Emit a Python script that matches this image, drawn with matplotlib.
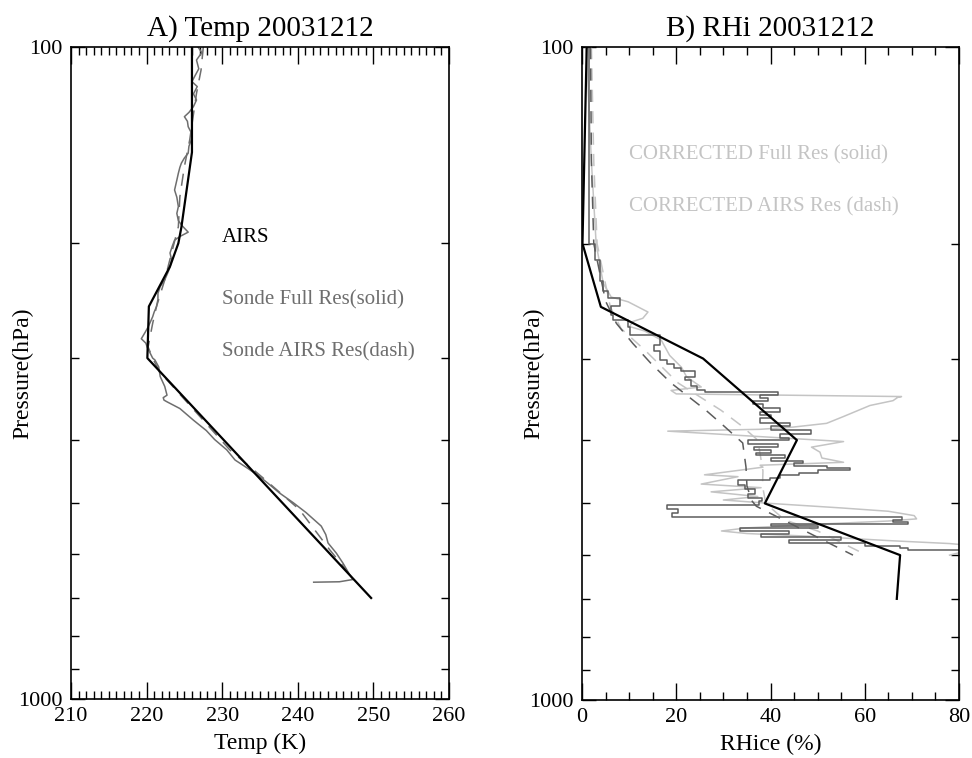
import matplotlib
matplotlib.use("Agg")
from matplotlib import pyplot as plt
from matplotlib.ticker import FixedLocator, MultipleLocator, NullFormatter

plt.rcParams["font.family"] = ["Liberation Serif", "DejaVu Serif"]

# ---- panel A: temperature profiles ----
p_airs_t = [100, 145, 189, 200, 217, 250, 300, 700]
t_airs = [226.0, 226.0, 224.6, 224.2, 223.1, 220.3, 220.1, 249.7]

p_sonde_t = [100, 102, 104.7, 108, 110.7, 113, 115, 118, 120.6, 123.4, 126, 127.9, 130, 132.5,
             136, 138.9, 142, 145.5, 148, 150.7, 153, 156.2, 160, 165.7, 170, 175.7, 180, 184.6,
             188, 192.3, 195, 197.8, 202, 207, 212, 217.5, 222, 227.6, 233, 238.7, 244, 250.3,
             255, 259.3, 264, 268.8, 274, 280.2, 284.6, 289, 293.7, 300, 302, 309.5, 320.2,
             331.6, 342, 345, 348, 350.1, 358.5, 373.6, 387.5, 400, 414.8, 430, 443, 456.4,
             467.3, 483.3, 500, 517.8, 543, 559.5, 576.4, 597.5, 619.6, 643, 655.7, 661, 662]
t_sonde = [226.8, 227.3, 226.6, 226.9, 226.4, 226.0, 226.7, 226.2, 226.6, 226.2, 225.6, 225.0,
           225.4, 225.5, 226.0, 225.9, 225.6, 225.5, 225.0, 224.6, 224.4, 224.2, 224.0, 223.7,
           224.0, 224.2, 224.0, 224.2, 224.7, 225.5, 224.5, 223.7, 223.4, 223.1, 223.3, 223.1,
           222.8, 222.4, 221.8, 221.5, 221.5, 221.3, 221.0, 220.8, 220.5, 220.2, 219.8, 219.3,
           219.9, 220.1, 220.4, 220.8, 221.1, 221.6, 221.8, 222.4, 222.7, 222.2, 222.3, 222.7,
           224.4, 226.2, 227.9, 229.0, 230.6, 231.7, 233.4, 235.0, 236.1, 237.6, 239.4, 241.1,
           243.1, 243.7, 244.0, 245.1, 246.0, 246.8, 247.3, 245.5, 242.1]

p_sonde_t_airs = [100, 108.5, 117.8, 138.9, 152.5, 169.7, 188.7, 207, 227.6, 250.3, 265.5,
                  288.5, 300, 314.7, 358.5, 414.8, 458, 512, 590, 634, 657]
t_sonde_airs = [227.5, 227.2, 226.6, 225.7, 225.0, 224.4, 224.2, 223.3, 222.4, 221.3, 220.8,
                220.2, 220.8, 221.7, 226.1, 231.0, 235.4, 240.2, 244.2, 246.4, 247.3]

# ---- panel B: relative humidity over ice ----
p_airs_rh = [100, 200, 250, 300, 400, 500, 600, 700]
rh_airs = [1.0, 0.1, 4.0, 25.7, 45.6, 38.8, 67.5, 66.8]

p_sonde_rh = [100, 200, 212, 228, 236, 242, 249, 257, 262, 268, 276, 286, 292, 302, 306, 310,
              314, 320, 324, 330, 335, 338, 341, 345, 348, 352, 357, 362, 366, 370, 376, 381,
              386, 392, 397, 400, 405, 410, 414, 418, 422, 426, 430, 434, 438, 441, 445, 449,
              453, 457, 461, 468, 475, 483, 490, 496, 502, 510, 517, 524, 530, 534, 538, 542,
              546, 551, 556, 562, 568, 574, 580, 586, 590]
rh_sonde = [1.5, 2.8, 3.8, 4.5, 5.5, 8.0, 6.2, 6.5, 9.8, 10.2, 16.5, 15.2, 16.6, 18.0, 19.5,
            21.0, 23.9, 21.8, 23.2, 24.5, 26.0, 41.6, 37.8, 39.5, 36.3, 38.4, 42.0, 37.8, 40.0,
            37.8, 44.1, 40.0, 48.7, 42.0, 44.0, 35.2, 41.6, 36.5, 40.0, 37.0, 43.0, 40.0, 47.0,
            45.0, 52.0, 56.9, 50.0, 46.0, 42.0, 39.9, 33.0, 34.5, 36.7, 35.2, 38.1, 37.5, 18.0,
            20.4, 19.1, 68.0, 66.0, 69.2, 40.0, 50.0, 33.5, 44.0, 38.0, 55.0, 44.0, 60.0, 67.5,
            69.2, 85.0]

p_sonde_rh_airs = [100, 150, 200, 245, 265, 284.5, 305, 327, 360, 381, 404, 440, 470, 495,
                   505, 576, 600]
rh_sonde_airs = [1.8, 2.0, 2.5, 5.0, 7.3, 10.8, 14.6, 18.9, 26.3, 30.2, 34.1, 34.8, 35.0, 36.0,
                 37.0, 52.6, 57.5]

p_corr = [100, 150, 200, 230, 241.5, 245.6, 254.6, 260.3, 263.2, 268, 272.2, 281, 296.7, 309.3,
          320, 331.6, 335.7, 339.8, 343, 344, 348, 354, 368, 377, 382, 385, 387.5, 402, 410,
          417.3, 426, 432.5, 437, 440, 452, 455, 467, 473, 480, 488, 494, 500, 508, 514, 522,
          528, 532, 538, 545, 551, 556, 562, 570, 576, 582, 588, 595, 600]
rh_corr = [0.9, 2.0, 3.0, 4.5, 6.2, 9.8, 14.0, 12.9, 10.8, 10.1, 13.3, 16.8, 18.6, 21.1, 22.2,
           25.3, 18.9, 20.0, 67.8, 67.0, 66.0, 61.1, 55.5, 51.9, 44.8, 37.8, 18.2, 55.5, 48.7,
           50.5, 50.9, 55.5, 37.8, 38.4, 26.0, 33.1, 25.3, 38.0, 27.4, 37.3, 30.0, 40.0, 55.0,
           65.0, 70.5, 71.0, 65.0, 50.0, 35.0, 29.6, 35.0, 50.0, 65.0, 78.0, 85.0, 88.0, 80.0,
           78.0]

p_corr_airs = [100, 150, 200, 250, 270, 291, 327, 360, 380, 400, 446, 470, 500, 530, 551, 598]
rh_corr_airs = [2.0, 2.5, 3.2, 6.0, 8.3, 13.3, 20.4, 29.5, 33.8, 37.3, 38.4, 38.3, 39.0, 43.0,
                50.0, 60.0]

dark = "#6e6e6e"
dark2 = "#5c5c5c"
light = "#c4c4c4"


def style_pressure_axis(ax):
    ax.set_yscale("log")
    ax.set_ylim(1000, 100)
    ax.yaxis.set_major_locator(FixedLocator([100, 1000]))
    ax.yaxis.set_minor_locator(FixedLocator([200, 300, 400, 500, 600, 700, 800, 900]))
    ax.yaxis.set_minor_formatter(NullFormatter())
    ax.tick_params(axis="both", which="both", direction="in", top=True, right=True,
                   width=1.0, pad=6)
    ax.tick_params(axis="y", which="minor", length=6)
    ax.tick_params(axis="y", which="major", length=10, labelsize=16)
    ax.tick_params(axis="x", which="major", length=12, labelsize=16)
    ax.tick_params(axis="x", which="minor", length=6)
    ax.set_yticklabels(["100", "1000"], fontsize=16)
    for s in ax.spines.values():
        s.set_linewidth(1.2)
    ax.set_ylabel("Pressure(hPa)", fontsize=17)


fig = plt.figure(figsize=(9.72, 7.58), dpi=100)
ax1 = fig.add_axes([71 / 972, 1 - 699 / 758, 378 / 972, 652 / 758])
ax2 = fig.add_axes([582 / 972, 1 - 700 / 758, 377 / 972, 653 / 758])

# panel A
ax1.plot(t_sonde, p_sonde_t, color=dark, lw=1.1)
ax1.plot(t_sonde_airs, p_sonde_t_airs, color=dark, lw=1.1, dashes=(8, 6))
ax1.plot(t_airs, p_airs_t, color="black", lw=1.6)
style_pressure_axis(ax1)
ax1.set_xlim(210, 260)
ax1.xaxis.set_major_locator(MultipleLocator(10))
ax1.xaxis.set_minor_locator(MultipleLocator(1))
ax1.set_xlabel("Temp (K)", fontsize=17)
ax1.set_title("A) Temp 20031212", fontsize=21, pad=8)
ax1.text(230, 196, "AIRS", color="black", fontsize=15, va="center")
ax1.text(230, 244, "Sonde Full Res(solid)", color=dark, fontsize=15, va="center")
ax1.text(230, 293, "Sonde AIRS Res(dash)", color=dark, fontsize=15, va="center")

# panel B
ax2.plot(rh_corr, p_corr, color=light, lw=1.1)
ax2.plot(rh_corr_airs, p_corr_airs, color=light, lw=1.1, dashes=(8, 6))
ax2.plot(rh_sonde, p_sonde_rh, color=dark2, lw=1.1, drawstyle="steps-pre")
ax2.plot(rh_sonde_airs, p_sonde_rh_airs, color=dark2, lw=1.1, dashes=(8, 6))
ax2.plot(rh_airs, p_airs_rh, color="black", lw=1.6)
style_pressure_axis(ax2)
ax2.set_xlim(0, 80)
ax2.xaxis.set_major_locator(MultipleLocator(20))
ax2.xaxis.set_minor_locator(MultipleLocator(5))
ax2.set_xlabel("RHice (%)", fontsize=17)
ax2.set_title("B) RHi 20031212", fontsize=21, pad=8)
ax2.text(10, 146.5, "CORRECTED Full Res (solid)", color=light, fontsize=15, va="center")
ax2.text(10, 176, "CORRECTED AIRS Res (dash)", color=light, fontsize=15, va="center")

for ax in (ax1, ax2):
    ax.yaxis.set_label_coords(-0.10, 0.5)
    ax.xaxis.set_label_coords(0.5, -0.052)

fig.savefig("out.png", dpi=100)
